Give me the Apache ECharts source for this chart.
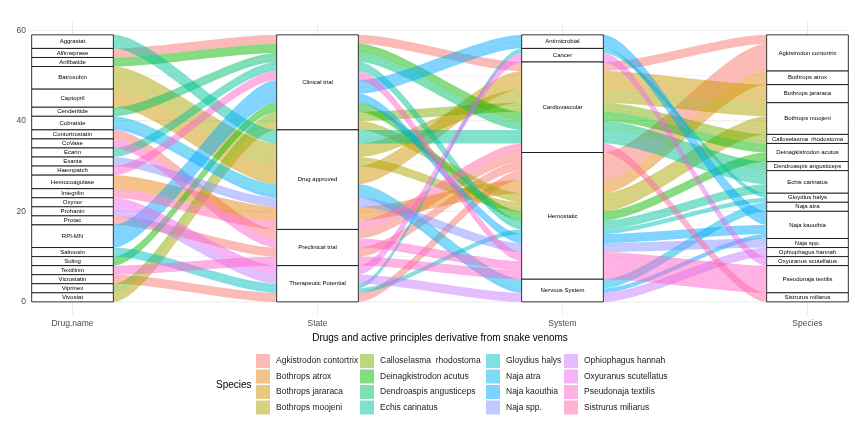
<!DOCTYPE html>
<html><head><meta charset="utf-8">
<script src="https://cdn.jsdelivr.net/npm/echarts@6/dist/echarts.min.js"></script>
<style>html,body{margin:0;padding:0;background:#fff}#c{width:855px;height:425px}</style>
</head><body><div id="c"></div>
<script>
// ---- data ----
const axisNames = ["Drug.name", "State", "System", "Species"];
const drugs = ["Aggrastat","Alfimeprase","Anfibatide","Batroxobin","Captopril","Cenderitide","Cobratide","Contortrostatin","CoVase","Ecarin","Exanta","Haempatch","Hemocoagulase","Integrilin","Oxynor","Prohanin","Protac","RPI-MN","Salmosin","Suling","Textilinin","Vicrostatin","Viprinex","Vivostat"];
const states = ["Clinical trial","Drug approved","Preclinical trial","Therapeutic Potential"];
const systems = ["Antimicrobial","Cancer","Cardiovascular","Hemostatic","Nervous System"];
const species = ["Agkistrodon contortrix","Bothrops atrox","Bothrops jararaca","Bothrops moojeni","Calloselasma  rhodostoma","Deinagkistrodon acutus","Dendroaspis angusticeps","Echis carinatus","Gloydius halys","Naja atra","Naja kaouthia","Naja spp.","Ophiophagus hannah","Oxyuranus scutellatus","Pseudonaja textilis","Sistrurus miliarus"];
// rows: drug, state, system, species, count
const rowDrug    = ["Aggrastat","Alfimeprase","Anfibatide","Batroxobin","Batroxobin","Captopril","Cenderitide","Cobratide","Cobratide","Contortrostatin","CoVase","Ecarin","Exanta","Haempatch","Hemocoagulase","Integrilin","Oxynor","Prohanin","Protac","RPI-MN","RPI-MN","Salmosin","Salmosin","Suling","Textilinin","Vicrostatin","Viprinex","Vivostat"];
const rowState   = ["Drug approved","Clinical trial","Clinical trial","Drug approved","Drug approved","Drug approved","Clinical trial","Drug approved","Drug approved","Preclinical trial","Preclinical trial","Clinical trial","Drug approved","Clinical trial","Drug approved","Drug approved","Therapeutic Potential","Therapeutic Potential","Preclinical trial","Clinical trial","Clinical trial","Therapeutic Potential","Therapeutic Potential","Clinical trial","Preclinical trial","Therapeutic Potential","Clinical trial","Clinical trial"];
const rowSystem  = ["Cardiovascular","Cardiovascular","Cardiovascular","Cardiovascular","Hemostatic","Cardiovascular","Cardiovascular","Nervous System","Nervous System","Hemostatic","Hemostatic","Hemostatic","Hemostatic","Hemostatic","Hemostatic","Cardiovascular","Cancer","Nervous System","Hemostatic","Antimicrobial","Hemostatic","Cancer","Hemostatic","Hemostatic","Hemostatic","Hemostatic","Cardiovascular","Hemostatic"];
const rowSpecies = ["Echis carinatus","Agkistrodon contortrix","Deinagkistrodon acutus","Bothrops moojeni","Bothrops moojeni","Bothrops jararaca","Dendroaspis angusticeps","Naja atra","Naja kaouthia","Agkistrodon contortrix","Pseudonaja textilis","Echis carinatus","Naja spp.","Pseudonaja textilis","Bothrops atrox","Sistrurus miliarus","Oxyuranus scutellatus","Ophiophagus hannah","Agkistrodon contortrix","Naja kaouthia","Naja kaouthia","Gloydius halys","Gloydius halys","Deinagkistrodon acutus","Pseudonaja textilis","Agkistrodon contortrix","Calloselasma  rhodostoma","Bothrops moojeni"];
const rowCount   = [3,2,2,3,2,4,2,2,1,2,2,2,2,2,3,2,2,2,2,3,2,1,1,2,2,2,2,2];
const yTicks = [0, 20, 40, 60];
const titleX = "Drugs and active principles derivative from snake venoms";
const legendTitle = "Species";

// ---- colours (ggplot hue palette, c=100, l=65) ----
function hcl2hex(h, c, l) {
  const hr = h * Math.PI / 180, U = c * Math.cos(hr), V = c * Math.sin(hr);
  const WY = 100, Wu = 0.1978398, Wv = 0.4683363;
  const Y = WY * (l > 7.999592 ? Math.pow((l + 16) / 116, 3) : l / 903.3);
  const u = U / (13 * l) + Wu, v = V / (13 * l) + Wv;
  const X = 9 * Y * u / (4 * v), Z = -X / 3 - 5 * Y + 3 * Y / v;
  const g = t => t > 0.00304 ? 1.055 * Math.pow(t, 1 / 2.4) - 0.055 : 12.92 * t;
  const r = [g((3.240479 * X - 1.537150 * Y - 0.498535 * Z) / WY),
             g((-0.969256 * X + 1.875992 * Y + 0.041556 * Z) / WY),
             g((0.055648 * X - 0.204043 * Y + 1.057311 * Z) / WY)];
  return r.map(x => Math.round(Math.max(0, Math.min(1, x)) * 255));
}
const speciesRGB = species.map((s, i) => hcl2hex(15 + 360 / species.length * i, 100, 65));
const rgba = (c, a) => `rgba(${c[0]},${c[1]},${c[2]},${a})`;

// ---- alluvial layout ----
const levels = [drugs, states, systems, species];
const units = [];
rowDrug.forEach((d, r) => {
  for (let k = 0; k < rowCount[r]; k++) {
    units.push({ id: units.length,
      v: [drugs.indexOf(d), states.indexOf(rowState[r]), systems.indexOf(rowSystem[r]), species.indexOf(rowSpecies[r])],
      lo: [], hi: [] });
  }
});
const total = units.length;
const keyOrder = [[0, 1, 2, 3], [1, 0, 2, 3], [2, 3, 1, 0], [3, 2, 1, 0]];
const strata = [];
for (let a = 0; a < 4; a++) {
  const sorted = units.slice().sort((p, q) => {
    for (const k of keyOrder[a]) { if (p.v[k] !== q.v[k]) return p.v[k] - q.v[k]; }
    return p.id - q.id;
  });
  let y = total;
  sorted.forEach(u => { u.hi[a] = y; u.lo[a] = y - 1; y -= 1; });
  let top = total;
  levels[a].forEach((name, li) => {
    const n = units.filter(u => u.v[a] === li).length;
    if (n > 0) { strata.push([a + 1, top - n, top, a, li]); top -= n; }
  });
}
const W = 1 / 3;
const KNOT = 0.25;

function bez(p, q, t) {
  const d = q[0] - p[0], c1 = p[0] + d * KNOT, c2 = q[0] - d * KNOT, s = 1 - t;
  return [s * s * s * p[0] + 3 * s * s * t * c1 + 3 * s * t * t * c2 + t * t * t * q[0],
          s * s * s * p[1] + 3 * s * s * t * p[1] + 3 * s * t * t * q[1] + t * t * t * q[1]];
}

const ribbonSeries = species.map((sp, si) => {
  const data = [];
  units.forEach(u => { if (u.v[3] === si) for (let a = 0; a < 3; a++) data.push([u.id, a]); });
  const col = rgba(speciesRGB[si], 0.5);
  return {
    name: sp, type: 'custom', z: 2, silent: true, clip: false,
    itemStyle: { color: col },
    encode: { x: -1, y: -1 },
    data: data,
    renderItem: (params, api) => {
      const u = units[api.value(0)], a = api.value(1);
      const xa = a + 1 + W / 2, xb = a + 2 - W / 2;
      const A1 = api.coord([xa, u.hi[a]]), B1 = api.coord([xb, u.hi[a + 1]]);
      const A0 = api.coord([xa, u.lo[a]]), B0 = api.coord([xb, u.lo[a + 1]]);
      const pts = [], N = 36;
      for (let i = 0; i <= N; i++) pts.push(bez(A1, B1, i / N));
      for (let i = N; i >= 0; i--) pts.push(bez(A0, B0, i / N));
      return { type: 'polygon', shape: { points: pts }, style: { fill: col, stroke: null } };
    }
  };
});

const gridSeries = {
  type: 'custom', z: 0, silent: true, clip: true, encode: { x: -1, y: -1 },
  data: [[0, 10, 0], [0, 30, 0], [0, 50, 0], [0, 0, 1], [0, 20, 1], [0, 40, 1], [0, 60, 1], [1, 1, 1], [1, 2, 1], [1, 3, 1], [1, 4, 1]],
  renderItem: (params, api) => {
    const vert = api.value(0) === 1, v = api.value(1), major = api.value(2) === 1;
    let p, q;
    if (vert) { p = api.coord([v, -10]); q = api.coord([v, 80]); }
    else { p = api.coord([0, v]); q = api.coord([5, v]); }
    return { type: 'line', shape: { x1: p[0], y1: p[1], x2: q[0], y2: q[1] },
      style: { stroke: '#EBEBEB', lineWidth: major ? 1 : 0.5 } };
  }
};

const strataSeries = {
  type: 'custom', z: 3, silent: true, clip: false, encode: { x: -1, y: -1 },
  data: strata,
  renderItem: (params, api) => {
    const x = api.value(0), lo = api.value(1), hi = api.value(2), a = api.value(3), li = api.value(4);
    const p = api.coord([x - W / 2, hi]), q = api.coord([x + W / 2, lo]);
    return { type: 'group', children: [
      { type: 'rect', shape: { x: p[0], y: p[1], width: q[0] - p[0], height: q[1] - p[1] },
        style: { fill: '#fff', stroke: '#000', lineWidth: 0.8 } },
      { type: 'text', x: (p[0] + q[0]) / 2, y: (p[1] + q[1]) / 2,
        style: { text: levels[a][li], fill: '#000', fontSize: 6, fontFamily: 'Liberation Sans, Arial, sans-serif',
          align: 'center', verticalAlign: 'middle' } }
    ] };
  }
};

const legendCols = [256, 360, 486, 564];
const legends = legendCols.map((lx, ci) => ({
  orient: 'vertical', left: lx, top: 354, itemWidth: 14, itemHeight: 14, itemGap: 1.5,
  icon: 'rect', selectedMode: false, padding: 0,
  textStyle: { fontSize: 8.5, color: '#1a1a1a', fontFamily: 'Liberation Sans, Arial, sans-serif', padding: [0, 0, 0, 1] },
  data: species.slice(ci * 4, ci * 4 + 4)
}));

const chart = echarts.init(document.getElementById('c'), null, { renderer: 'canvas' });
chart.setOption({
  animation: false,
  backgroundColor: '#fff',
  grid: { left: 30, right: 5, top: 21.5, bottom: 109.8 },
  xAxis: {
    type: 'value', min: 0.8265, max: 4.1735,
    axisLine: { show: false }, axisTick: { show: false }, splitLine: { show: false },
    axisLabel: { customValues: [1, 2, 3, 4], formatter: v => axisNames[Math.round(v) - 1], color: '#4D4D4D', fontSize: 8.5, margin: 4,
      fontFamily: 'Liberation Sans, Arial, sans-serif' },
    name: titleX, nameLocation: 'middle', nameGap: 17,
    nameTextStyle: { color: '#000', fontSize: 10, fontFamily: 'Liberation Sans, Arial, sans-serif' }
  },
  yAxis: {
    type: 'value', min: -2.95, max: 61.95,
    axisLine: { show: false }, axisTick: { show: false }, splitLine: { show: false },
    axisLabel: { customValues: yTicks, color: '#4D4D4D', fontSize: 8.5, margin: 4,
      fontFamily: 'Liberation Sans, Arial, sans-serif' }
  },
  legend: legends,
  graphic: [{ type: 'text', left: 216, top: 380, style: { text: legendTitle, fontSize: 10, fill: '#000',
    fontFamily: 'Liberation Sans, Arial, sans-serif' } }],
  series: [gridSeries].concat(ribbonSeries, [strataSeries])
});
</script></body></html>
